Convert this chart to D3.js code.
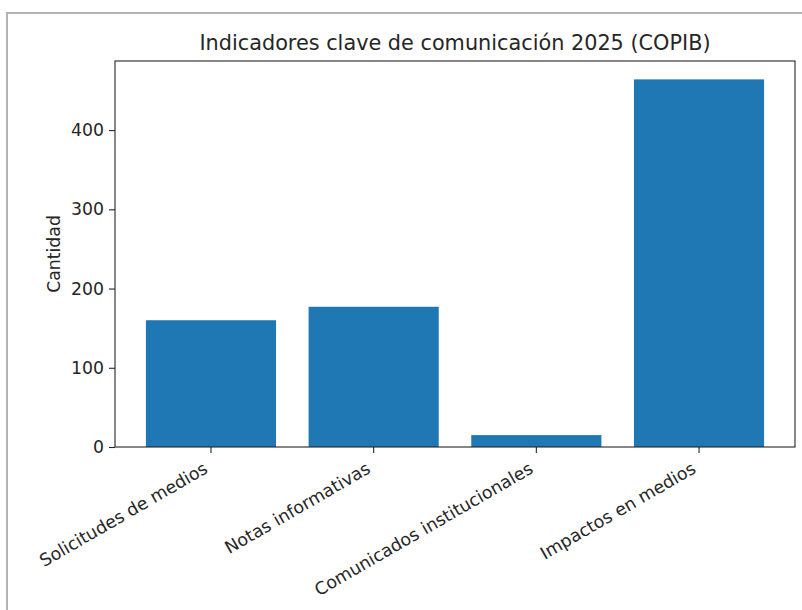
<!DOCTYPE html>
<html lang="es">
<head>
<meta charset="UTF-8">
<title>Indicadores clave de comunicación 2025 (COPIB)</title>
<script src="https://d3js.org/d3.v7.min.js"></script>
<style>
  body { margin: 0; background: #fff; }
  text { font-family: "DejaVu Sans", sans-serif; fill: #262626; }
</style>
</head>
<body>
<svg id="chart" width="802" height="610"></svg>
<script>
// data
var categories = ["Solicitudes de medios", "Notas informativas", "Comunicados institucionales", "Impactos en medios"];
var values = [160, 177, 15, 464];
var yTicks = [0, 100, 200, 300, 400];
var title = "Indicadores clave de comunicación 2025 (COPIB)";
var yLabel = "Cantidad";

var svg = d3.select("#chart"),
    width = +svg.attr("width"),
    height = +svg.attr("height");

var margin = {top: 61, right: 7, bottom: 163, left: 115};
var x0 = margin.left, x1 = width - margin.right,
    y0 = height - margin.bottom, y1 = margin.top;

// outer frame of the image
svg.append("rect")
    .attr("x", 7).attr("y", 13)
    .attr("width", width + 10).attr("height", height + 10)
    .attr("fill", "none")
    .attr("stroke", "#b4b4b4")
    .attr("stroke-width", 2);

var x = d3.scaleBand()
    .domain(categories)
    .range([x0, x1])
    .paddingInner(0.2)
    .paddingOuter(0.19);

var y = d3.scaleLinear()
    .domain([0, d3.max(values) * 1.05])
    .range([y0, y1]);

// bars
svg.append("g")
  .selectAll("rect")
  .data(values)
  .enter().append("rect")
    .attr("x", function(d, i) { return x(categories[i]); })
    .attr("width", x.bandwidth())
    .attr("y", function(d) { return y(d); })
    .attr("height", function(d) { return y(0) - y(d); })
    .attr("fill", "#1f77b4");

// y axis
var yAxis = svg.append("g")
    .attr("transform", "translate(" + x0 + ",0)")
    .call(d3.axisLeft(y).tickValues(yTicks).tickSize(6).tickPadding(5));
yAxis.select(".domain").remove();
yAxis.selectAll(".tick line").attr("stroke", "#262626").attr("stroke-width", 1.1);
yAxis.selectAll(".tick text")
    .attr("font-size", "17.3px")
    .style("font-family", "DejaVu Sans");

// x axis ticks, labels rotated 30 degrees
var xAxis = svg.append("g")
    .attr("transform", "translate(0," + y0 + ")")
    .call(d3.axisBottom(x).tickSize(6).tickPadding(0));
xAxis.select(".domain").remove();
xAxis.selectAll(".tick line").attr("stroke", "#262626").attr("stroke-width", 1.1);
xAxis.selectAll(".tick text")
    .attr("font-size", "17.4px")
    .style("font-family", "DejaVu Sans")
    .attr("text-anchor", "end")
    .attr("dy", null)
    .attr("y", null)
    .attr("transform", "translate(-2,25) rotate(-30)");

// frame of the axes
svg.append("rect")
    .attr("x", x0).attr("y", y1)
    .attr("width", x1 - x0).attr("height", y0 - y1)
    .attr("fill", "none")
    .attr("stroke", "#262626")
    .attr("stroke-width", 1.1);

svg.append("text")
    .attr("x", (x0 + x1) / 2)
    .attr("y", y1 - 11)
    .attr("text-anchor", "middle")
    .attr("font-size", "20.8px")
    .text(title);

svg.append("text")
    .attr("transform", "translate(60," + ((y0 + y1) / 2) + ") rotate(-90)")
    .attr("text-anchor", "middle")
    .attr("font-size", "17.3px")
    .text(yLabel);
</script>
</body>
</html>
